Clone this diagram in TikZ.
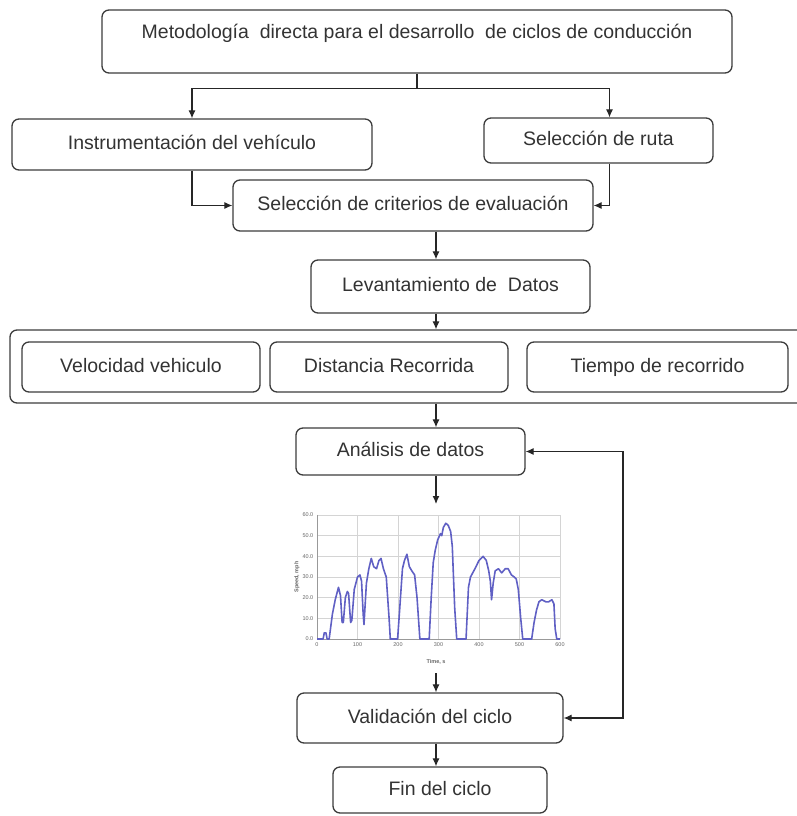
\documentclass[tikz,border=0pt]{standalone}
\usepackage{fontspec}
\setmainfont{Liberation Sans}
\usetikzlibrary{arrows.meta}
\definecolor{edge}{HTML}{3C3C3C}
\definecolor{ink}{HTML}{333333}
\definecolor{speed}{HTML}{6060C4}
\definecolor{gridc}{HTML}{D4D4D4}
\tikzset{
  box/.style={draw=edge, line width=1.3pt, rounded corners=7pt, inner sep=0pt, text=ink,
    font=\fontsize{19.5}{22}\selectfont, text height=14pt, text depth=4pt},
  arr/.style={draw=black!85, line width=1.1pt},
  >={Latex[length=8pt,width=7pt]},
  tick/.style={font=\fontsize{5.5}{6}\selectfont, text=black!60, inner sep=1.5pt},
  gridline/.style={draw=gridc, line width=0.6pt},
  speedline/.style={draw=speed, line width=1.6pt, line join=round}
}

\begin{document}
\begin{tikzpicture}[x=1pt, y=-1pt]
    \useasboundingbox (0,0) rectangle (797,816);
    \node[box, minimum width=630pt, minimum height=63pt, text depth=19pt] (meta) at (417,41.5)
        {Metodología\ \ directa para el desarrollo\ \ de ciclos de conducción};
    \node[box, minimum width=360pt, minimum height=51pt] (instr) at (192,144.5) {Instrumentación del vehículo};
    \node[box, minimum width=229pt, minimum height=45pt] (ruta) at (598.5,140.5) {Selección de ruta};
    \node[box, minimum width=360pt, minimum height=51pt] (crit) at (413,205.5) {Selección de criterios de evaluación};
    \node[box, minimum width=279pt, minimum height=53pt] (datos) at (450.5,286.5) {Levantamiento de\ \ Datos};
    \node[box, minimum width=795pt, minimum height=73pt] (vars) at (407.5,366.5) {};
    \node[box, minimum width=238pt, minimum height=50pt] (vel) at (141,367) {Velocidad vehiculo};
    \node[box, minimum width=238pt, minimum height=50pt] (dist) at (389,367) {Distancia Recorrida};
    \node[box, minimum width=261pt, minimum height=50pt] (tiem) at (657.5,367) {Tiempo de recorrido};
    \node[box, minimum width=229pt, minimum height=47pt] (anal) at (410.5,451.5) {Análisis de datos};
    \node[box, minimum width=266pt, minimum height=50pt] (valid) at (430,718) {Validación del ciclo};
    \node[box, minimum width=214pt, minimum height=46pt] (fin) at (440,790) {Fin del ciclo};

    \begin{scope}[shift={(317,639)}, x=0.405pt, y=2.067pt]
        \foreach \t in {100,200,...,600} \draw[gridline] (\t,0) -- (\t,60);
        \foreach \v in {10,20,...,60} \draw[gridline] (0,\v) -- (600,\v);
        \draw[black!40, line width=0.6pt] (0,60) -- (0,0) -- (600,0);
        \foreach \t in {0,100,...,600} \node[tick, below=2pt] (xt\t) at (\t,0) {\t};
        \foreach \v in {0,10,...,60} \node[tick, left=2pt] (yt\v) at (0,\v) {\v.0};
        \draw[speedline] plot coordinates {(0,0) (15,0) (18,3) (22,3) (25,0) (30,0) (38,12) (45,19)
            (53,25) (58,21) (62,8) (65,8) (70,20) (75,23) (78,22) (83,8) (86,9) (92,24) (100,30)
            (106,31) (110,28) (114,12) (116,7) (122,27) (128,34) (134,39) (140,35) (147,34)
            (153,38) (158,39) (164,34) (171,30) (178,10) (181,0) (199,0) (204,14) (211,34)
            (216,38) (222,41) (228,35) (234,33) (241,31) (247,20) (254,0) (277,0) (282,20)
            (287,37) (292,43) (298,48) (305,51) (308,50) (312,54) (318,56) (324,55) (330,52)
            (334,45) (340,15) (345,0) (368,0) (374,25) (379,30) (390,34) (400,38) (410,40)
            (418,38) (424,33) (428,28) (431,19) (435,27) (440,33) (448,34) (456,32) (465,34)
            (472,34) (480,31) (487,30) (492,29) (497,24) (503,10) (508,0) (530,0) (536,8)
            (542,14) (548,18) (555,19) (565,18) (572,18) (580,19) (585,17) (588,5) (592,0) (600,0)};
    \end{scope}
    \node[tick, font=\bfseries\fontsize{5.5}{6}\selectfont] (tlab) at (436,662) {Time, s};
    \node[tick, font=\bfseries\fontsize{5.5}{6}\selectfont, rotate=90] (slab) at (297,577) {Speed, mph};

    \coordinate (spine) at (436,0);
    \coordinate (loop) at (623,0);
    \coordinate (charttop) at (436,504);
    \coordinate (chartbot) at (436,673);

    \draw[arr] (meta.south) -- ++(0,15) coordinate (fork);
    \draw[arr, ->] (fork) -| (instr.north);
    \draw[arr, ->] (fork) -| ([xshift=11pt]ruta.north);
    \draw[arr, ->] (instr.south) |- (crit.west);
    \draw[arr, ->] ([xshift=11pt]ruta.south) |- (crit.east);
    \draw[arr, ->] (crit.south -| spine) -- (datos.north -| spine);
    \draw[arr, ->] (datos.south -| spine) -- (vars.north -| spine);
    \draw[arr, ->] (vars.south -| spine) -- (anal.north -| spine);
    \draw[arr, ->] (anal.south -| spine) -- (charttop);
    \draw[arr, ->] (chartbot) -- (valid.north -| spine);
    \draw[arr, ->] (valid.south -| spine) -- (fin.north -| spine);
    \draw[arr, <->] (anal.east) -- (anal.east -| loop) |- (valid.east);
\end{tikzpicture}
\end{document}
